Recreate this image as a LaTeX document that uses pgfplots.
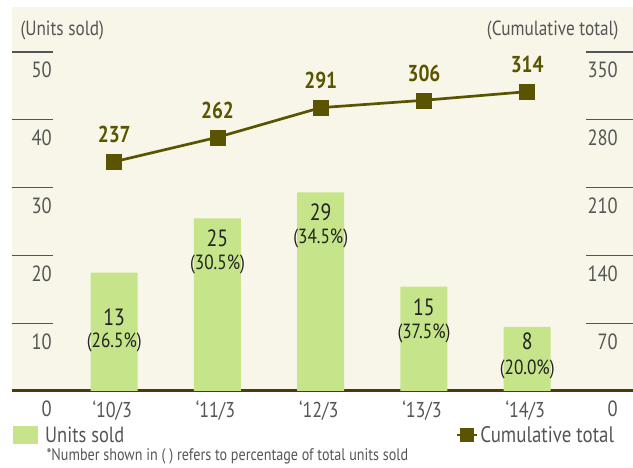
\documentclass[border=0pt]{standalone}
\usepackage{fontspec}
\setmainfont{PT Sans}[FakeStretch=0.84]
\usepackage{pgfplots}
\pgfplotsset{compat=1.18}
\definecolor{cream}{HTML}{F8F6E8}
\definecolor{bargreen}{HTML}{C6E48A}
\definecolor{olive}{HTML}{5A5400}
\definecolor{axbrown}{HTML}{4D3B0E}
\definecolor{tickgray}{HTML}{555555}
\definecolor{txtdark}{HTML}{222222}
\newcommand{\fs}[1]{\fontsize{#1}{#1}\selectfont}
\tikzset{lbl/.style={text=txtdark, inner sep=0pt}}

\begin{document}
\begin{tikzpicture}[x=1bp,y=1bp]
\useasboundingbox (0,0) rectangle (633,468);
\begin{axis}[
  at={(12bp,77bp)}, anchor=south west,
  scale only axis, width=621bp, height=384bp,
  xmin=-0.9903, xmax=5.0247, ymin=0, ymax=56.64,
  axis background/.style={fill=cream},
  axis x line*=bottom, axis y line*=left,
  x axis line style={line width=3bp, draw=axbrown, -},
  y axis line style={draw=none},
  xtick={0,...,4}, xticklabels={`10/3,`11/3,`12/3,`13/3,`14/3},
  x tick style={draw=none},
  xticklabel style={anchor=north, inner sep=0pt, yshift=-10bp, xshift=-2bp, font=\fs{21.5bp}, text=tickgray},
  ytick={10,20,...,50},
  extra y ticks={0}, extra y tick style={major tick length=0pt},
  tick align=inside,
  y tick style={draw=tickgray, line width=1.3bp},
  major tick length=41bp,
  yticklabel style={anchor=north east, inner sep=0pt, xshift=40bp, yshift=-10bp, font=\fs{22bp}, text=tickgray},
  /pgf/number format/assume math mode=true,
  clip=false,
  legend style={at={(axis description cs:0.0016,-0.1146)}, anchor=west, draw=none, fill=none, inner sep=0pt,
    font=\fs{22bp}, text=tickgray, nodes={inner sep=2bp},
    /tikz/every odd column/.append style={column sep=5bp}},
  legend image code/.code={\fill[#1] (0bp,-9bp) rectangle (25bp,9bp);},
]
\addplot[ybar, bar width=47bp, bar shift=0pt, fill=bargreen, draw=none]
  coordinates {(0,17.45) (1,25.47) (2,29.31) (3,15.38) (4,9.44)};
\addlegendentry{Units sold}

\node[lbl, font=\fs{23.5bp}] at (axis cs:0,10.80) {13};
\node[lbl, font=\fs{23.5bp}] at (axis cs:1,22.49) {25};
\node[lbl, font=\fs{23.5bp}] at (axis cs:2,26.33) {29};
\node[lbl, font=\fs{23.5bp}] at (axis cs:3,12.32) {15};
\node[lbl, font=\fs{23.5bp}] at (axis cs:4,7.27) {8};
\node[lbl, font=\fs{20.5bp}] at (axis cs:0,7.10) {(26.5\%)};
\node[lbl, font=\fs{20.5bp}] at (axis cs:1,18.63) {(30.5\%)};
\node[lbl, font=\fs{20.5bp}] at (axis cs:2,22.54) {(34.5\%)};
\node[lbl, font=\fs{20.5bp}] at (axis cs:3,8.53) {(37.5\%)};
\node[lbl, font=\fs{20.5bp}] at (axis cs:4,3.14) {(20.0\%)};
\end{axis}

\begin{axis}[
  at={(12bp,77bp)}, anchor=south west,
  scale only axis, width=621bp, height=384bp,
  xmin=-0.9903, xmax=5.0247, ymin=0, ymax=396.4,
  axis x line=none, axis y line*=right,
  y axis line style={draw=none},
  ytick={70,140,...,350},
  extra y ticks={0}, extra y tick style={major tick length=0pt},
  tick align=inside,
  y tick style={draw=tickgray, line width=1.3bp},
  major tick length=47bp,
  yticklabel style={anchor=north east, inner sep=0pt, xshift=-15bp, yshift=-10bp, font=\fs{22bp}, text=tickgray},
  /pgf/number format/assume math mode=true,
  clip=false,
  legend style={at={(axis description cs:0.973,-0.1146)}, anchor=east, draw=none, fill=none, inner sep=0pt,
    font=\fs{22.5bp}, text=tickgray, nodes={inner sep=2bp}},
  legend image code/.code={\draw[#1, mark size=6.5bp, mark repeat=2, mark phase=2] plot coordinates {(0bp,0bp) (10bp,0bp) (20bp,0bp)};},
]
\addplot[olive, line width=2.7bp, mark=square*, mark size=7.5bp, mark options={solid, fill=olive, draw=olive, line width=0.5bp},
  point meta=explicit symbolic,
  nodes near coords={\pgfplotspointmeta},
  every node near coord/.append style={font=\bfseries\fs{23bp}, text=olive, anchor=center, yshift=27bp}]
  coordinates {(0,236.7)[237] (1,261.9)[262] (2,292.5)[291] (3,300.1)[306] (4,309.0)[314]};
\addlegendentry{Cumulative total}
\end{axis}

\node[anchor=base west, font=\fs{20.5bp}, text=tickgray] at (17,432.5) {(Units sold)};
\node[anchor=base east, font=\fs{20.5bp}, text=tickgray] at (622,432.5) {(Cumulative total)};
\node[anchor=base west, font=\fs{16.8bp}, text=tickgray] at (43,7) {*Number shown in ( ) refers to percentage of total units sold};
\end{tikzpicture}
\end{document}
